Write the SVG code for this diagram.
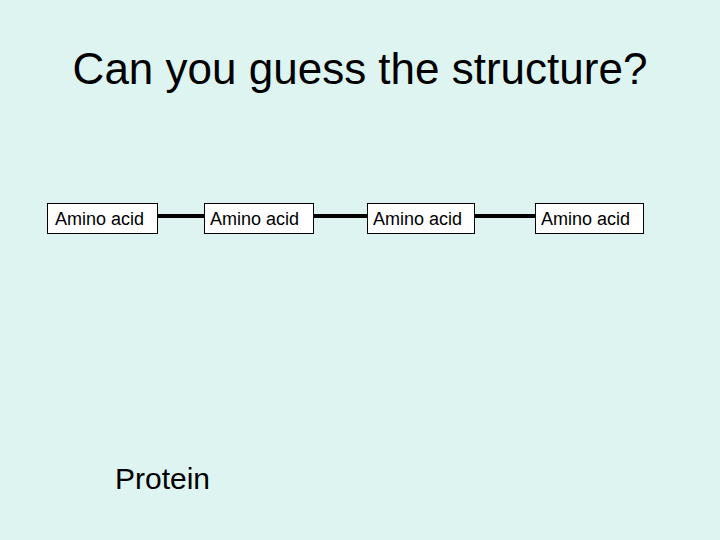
<svg xmlns="http://www.w3.org/2000/svg" width="720" height="540" viewBox="0 0 720 540">
<style>
.box{fill:#fff;stroke:#000;stroke-width:1}
.lbl{font-family:"Liberation Sans",Arial,sans-serif;font-size:18px;fill:#000}
.bond{stroke:#000;stroke-width:4}
</style>
<rect width="720" height="540" fill="#DDF4F1"/>
<text x="360" y="84" text-anchor="middle" font-family="Liberation Sans, Arial, sans-serif" font-size="44" fill="#000">Can you guess the structure?</text>
<g id="connectors">
<line class="bond" x1="157" y1="216" x2="204" y2="216"/>
<line class="bond" x1="313" y1="216" x2="367" y2="216"/>
<line class="bond" x1="474" y1="216" x2="535" y2="216"/>
</g>
<g id="aa1"><rect class="box" x="47.5" y="203.5" width="110" height="30"/><text class="lbl" x="55" y="225">Amino acid</text></g>
<g id="aa2"><rect class="box" x="204.5" y="203.5" width="109" height="30"/><text class="lbl" x="210" y="225">Amino acid</text></g>
<g id="aa3"><rect class="box" x="367.5" y="203.5" width="107" height="30"/><text class="lbl" x="373" y="225">Amino acid</text></g>
<g id="aa4"><rect class="box" x="535.5" y="203.5" width="108" height="30"/><text class="lbl" x="541" y="225">Amino acid</text></g>
<text x="115" y="489" font-family="Liberation Sans, Arial, sans-serif" font-size="30" fill="#000">Protein</text>
</svg>
